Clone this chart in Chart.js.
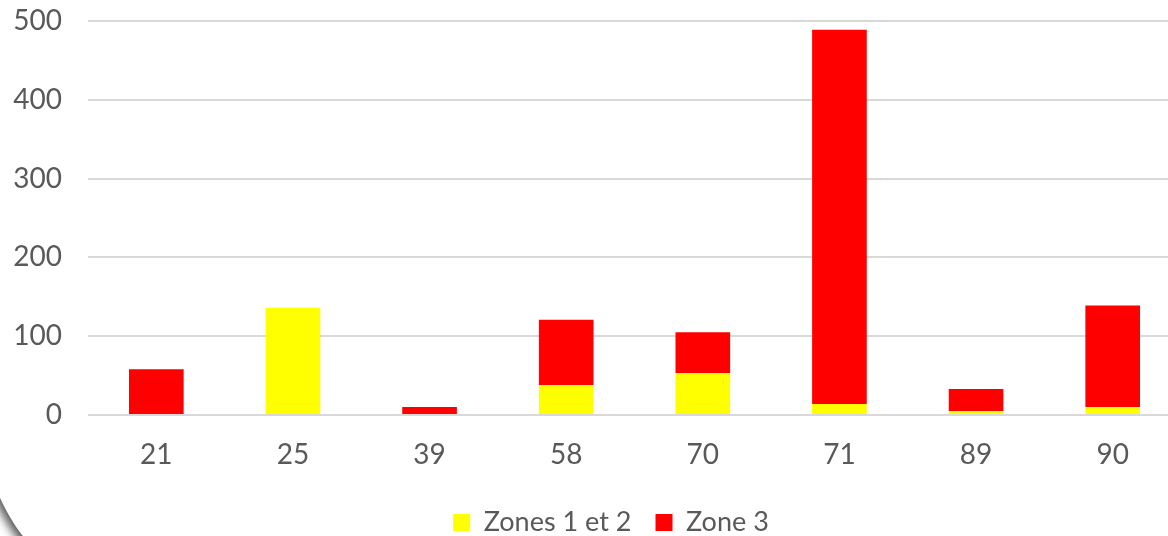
<!DOCTYPE html>
<html>
<head>
<meta charset="utf-8">
<script src="https://cdn.jsdelivr.net/npm/chart.js@4/dist/chart.umd.min.js"></script>
<style>
  html, body { margin: 0; padding: 0; background: #ffffff; overflow: hidden; width: 1168px; height: 536px; position: relative; }
  #card { position: absolute; left: -16px; top: -200px; width: 2000px; height: 809px; border-radius: 187px; background: #ffffff; box-shadow: -4px 4px 10px rgba(0,0,0,0.65); }
  #wrap { position: absolute; left: 0; top: 0; width: 1222px; height: 536px; }
</style>
</head>
<body>
<div id="card"></div>
<div id="wrap"><canvas id="c" width="1222" height="536"></canvas></div>
<script>
const categories = ["21", "25", "39", "58", "70", "71", "89", "90"];
const zones12 = [0, 136, 0, 38, 53, 14, 5, 10];
const zone3 = [58, 0, 10, 83, 52, 475, 28, 129];
const yTicks = [0, 100, 200, 300, 400, 500];

const textColor = "#595959";
const fontFamily = "Lato, 'Open Sans', sans-serif";

function noLabelClip(axis) {
  axis._computeLabelArea = function () { return undefined; };
  axis._labelArea = undefined;
}

const chart = new Chart(document.getElementById("c"), {
  type: "bar",
  data: {
    labels: categories,
    datasets: [
      { label: "Zones 1 et 2", data: zones12, backgroundColor: "#FFFF00", borderWidth: 0 },
      { label: "Zone 3", data: zone3, backgroundColor: "#FF0000", borderWidth: 0 }
    ]
  },
  options: {
    responsive: false,
    animation: false,
    layout: { autoPadding: false, padding: { left: 41, right: 41, top: 21, bottom: -10 } },
    datasets: { bar: { barPercentage: 0.4, categoryPercentage: 1.0 } },
    plugins: {
      legend: {
        position: "bottom",
        labels: {
          color: textColor,
          font: { family: fontFamily, size: 27 },
          boxWidth: 17,
          boxHeight: 17,
          padding: 24
        }
      },
      tooltip: { enabled: false }
    },
    scales: {
      x: {
        stacked: true,
        grid: { display: false, drawTicks: false },
        border: { display: false },
        ticks: { color: textColor, font: { family: fontFamily, size: 28 }, padding: 23 },
        afterFit: (axis) => { axis.height = 70; axis.paddingLeft = 0; axis.paddingRight = 0; }
      },
      y: {
        stacked: true,
        min: 0,
        max: 500,
        afterBuildTicks: (axis) => { axis.ticks = yTicks.map(v => ({ value: v })); },
        grid: { color: "#d9d9d9", lineWidth: 2, drawTicks: false },
        border: { display: false },
        ticks: { color: textColor, font: { family: fontFamily, size: 28 }, padding: 26 },
        afterFit: (axis) => { axis.width = 47; axis.paddingTop = 0; axis.paddingBottom = 0; noLabelClip(axis); },
        afterUpdate: (axis) => { noLabelClip(axis); }
      }
    }
  }
});
</script>
</body>
</html>
